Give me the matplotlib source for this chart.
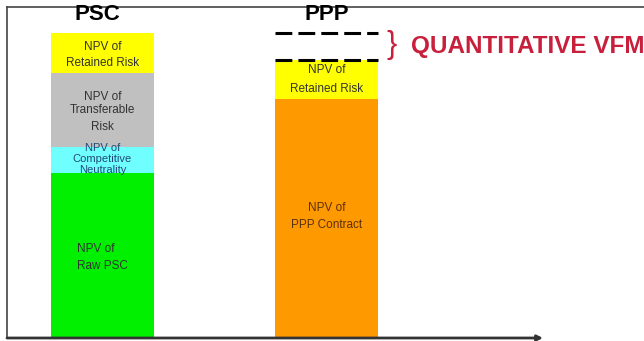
import matplotlib.pyplot as plt

plt.rcParams['font.family'] = ['Liberation Sans', 'DejaVu Sans']

# stacked components, bottom to top
psc_parts = ["NPV of Raw PSC", "NPV of Competitive Neutrality",
             "NPV of Transferable Risk", "NPV of Retained Risk"]
psc_values = [165, 26, 74, 40]
psc_colors = ["#00f000", "#70ffff", "#c0c0c0", "#ffff00"]

ppp_parts = ["NPV of PPP Contract", "NPV of Retained Risk"]
ppp_values = [239, 39]
ppp_colors = ["#ff9900", "#ffff00"]

fig = plt.figure(figsize=(6.44, 3.41), dpi=100)
ax = fig.add_axes([0, 0, 1, 1])
ax.set_xlim(0, 644)
ax.set_ylim(-3, 338)
ax.axis("off")

psc_x, ppp_x, w = 102.5, 327, 103

bottom = 0
for v, c in zip(psc_values, psc_colors):
    ax.bar(psc_x, v, w, bottom=bottom, color=c, linewidth=0)
    bottom += v
psc_total = bottom

bottom = 0
for v, c in zip(ppp_values, ppp_colors):
    ax.bar(ppp_x, v, w, bottom=bottom, color=c, linewidth=0)
    bottom += v
ppp_total = bottom

# dashed markers for the gap between PSC and PPP
for yv in (psc_total, ppp_total):
    ax.hlines(yv, ppp_x - w / 2, ppp_x + w / 2, colors="black", lw=2.2,
              linestyles=(0, (5.5, 2.0)))

# labels inside the segments (y given as distance from top)
def lines(x, ys, texts, color="#333333", ha="center", size=8.5):
    for yp, t in zip(ys, texts):
        ax.text(x, 338 - yp, t, ha=ha, va="center", fontsize=size, color=color)

lines(psc_x, [47, 63], ["NPV of", "Retained Risk"])
lines(psc_x, [97, 110, 127], ["NPV of", "Transferable", "Risk"])
lines(psc_x, [148, 159.5, 170], ["NPV of", "Competitive", "Neutrality"],
      color="#1f4a78", size=8)
lines(77, [249, 266], ["NPV of", "Raw PSC"], ha="left")
lines(ppp_x, [70, 89], ["NPV of", "Retained Risk"])
lines(ppp_x, [208, 225], ["NPV of", "PPP Contract"], color="#5a3010")

ax.text(97, 338 - 14.5, "PSC", ha="center", va="center", fontsize=16, fontweight="bold")
ax.text(327, 338 - 14.5, "PPP", ha="center", va="center", fontsize=16, fontweight="bold")

ax.text(392, (psc_total + ppp_total) / 2 + 1, "}", ha="center", va="center",
        fontsize=22, color="#c8203c")
ax.text(411, (psc_total + ppp_total) / 2, "QUANTITATIVE VFM", ha="left", va="center",
        fontsize=17.5, fontweight="bold", color="#c8203c")

# frame and axis arrow
ax.plot([7, 7], [0, 331], color="#444444", lw=1.2)
ax.plot([7, 644], [331, 331], color="#444444", lw=1.2)
ax.annotate("", xy=(543, 0), xytext=(7, 0),
            arrowprops=dict(arrowstyle="-|>", color="#333333", lw=2,
                            mutation_scale=8, shrinkA=0, shrinkB=0))

fig.savefig("out.png", dpi=100)
